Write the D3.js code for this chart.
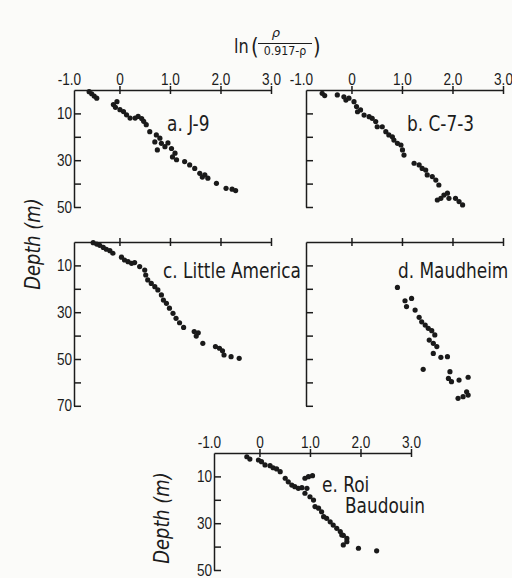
<!DOCTYPE html>
<html>
<head>
<meta charset="utf-8">
<script src="https://cdn.jsdelivr.net/npm/d3@7"></script>
<style>
  body { margin: 0; background: #fbfbf9; }
  svg { font-family: "DejaVu Sans", sans-serif; }
  .axis path, .axis line { stroke: #1c1c1c; stroke-width: 1.5; }
  .axis text { fill: #1c1c1c; }
</style>
</head>
<body>
<script>
const width = 512;
const height = 578;

// ln(rho / (0.917 - rho)) vs depth (m)
const j9 = [
  [-0.60, 0.7], [-0.55, 1.6], [-0.50, 2.6], [-0.45, 3.5],
  [-0.05, 5.0], [-0.12, 6.2], [-0.08, 7.4], [0.01, 8.4], [0.08, 9.2], [0.14, 10.6],
  [0.21, 12.0], [0.31, 12.0], [0.37, 11.3], [0.44, 12.2], [0.48, 13.4], [0.53, 14.8],
  [0.60, 17.8], [0.73, 19.2], [0.80, 20.6], [0.70, 22.2], [0.83, 22.8], [0.90, 24.2],
  [0.96, 22.6], [1.03, 25.0], [0.75, 25.6], [1.10, 27.0], [1.05, 28.6], [1.13, 29.8],
  [1.29, 30.6], [1.39, 32.0], [1.49, 33.5], [1.59, 35.6], [1.69, 36.3], [1.64, 37.2],
  [1.75, 37.7], [1.92, 39.9], [2.11, 42.0], [2.23, 42.4], [2.30, 43.0]
];
const c73 = [
  [-0.58, 1.4], [-0.53, 2.4], [-0.28, 2.1], [-0.15, 2.9], [-0.11, 4.3], [-0.05, 3.5],
  [0.05, 5.0], [0.10, 7.1], [0.12, 9.3], [0.18, 8.5], [0.25, 10.7], [0.35, 11.4],
  [0.41, 12.1], [0.48, 13.5], [0.51, 15.7], [0.61, 15.7], [0.68, 17.8], [0.74, 19.2],
  [0.81, 20.0], [0.84, 21.4], [0.91, 22.8], [0.98, 23.5], [1.01, 25.6], [1.04, 27.8],
  [1.24, 31.3], [1.34, 32.0], [1.40, 33.5], [1.47, 34.2], [1.50, 36.3], [1.60, 37.0],
  [1.67, 38.5], [1.73, 40.6], [1.70, 47.0], [1.77, 46.3], [1.83, 44.9], [1.90, 44.1],
  [1.93, 46.3], [2.06, 46.3], [2.13, 47.7], [2.20, 49.1]
];
const littleAmerica = [
  [-0.52, 0.3], [-0.45, 0.9], [-0.39, 1.4], [-0.32, 2.3], [-0.26, 3.1], [-0.19, 3.7],
  [-0.13, 4.8], [0.04, 6.5], [0.10, 7.7], [0.17, 8.4], [0.24, 9.1], [0.30, 8.8],
  [0.40, 10.5], [0.50, 12.0], [0.52, 14.1], [0.56, 16.2], [0.63, 17.7], [0.70, 19.1],
  [0.76, 20.5], [0.83, 22.6], [0.87, 24.8], [0.93, 26.2], [0.99, 28.3], [1.06, 30.5],
  [1.12, 32.6], [1.19, 34.5], [1.27, 36.5], [1.48, 38.3], [1.56, 38.8], [1.52, 40.2],
  [1.65, 43.3], [1.90, 44.7], [1.98, 45.4], [2.04, 46.5], [2.07, 48.3], [2.21, 49.0],
  [2.37, 49.7]
];
const maudheim = [
  [0.91, 19.4], [1.06, 25.1], [1.09, 27.6], [1.19, 24.1], [1.26, 29.1], [1.34, 32.2],
  [1.39, 34.1], [1.46, 35.5], [1.52, 36.9], [1.59, 37.9], [1.65, 39.7], [1.54, 41.9],
  [1.62, 43.3], [1.69, 44.7], [1.62, 47.6], [1.77, 49.3], [1.90, 49.0], [1.42, 54.4],
  [1.95, 55.4], [1.92, 58.3], [1.98, 59.7], [2.13, 59.0], [2.31, 57.8], [2.28, 64.0],
  [2.31, 65.4], [2.11, 66.8], [2.21, 66.1]
];
const roiBaudouin = [
  [-0.25, 1.6], [-0.19, 2.6], [-0.02, 3.0], [0.04, 3.7], [0.11, 5.1], [0.21, 5.4],
  [0.27, 6.3], [0.34, 6.8], [0.41, 8.0], [0.51, 10.8], [0.57, 12.3], [0.64, 13.7],
  [0.70, 14.4], [0.77, 15.1], [0.84, 14.8], [0.90, 10.8], [0.97, 10.1], [1.05, 9.7],
  [0.94, 15.1], [0.90, 17.2], [1.00, 18.7], [1.07, 20.1], [1.10, 22.9], [1.17, 23.6],
  [1.23, 25.1], [1.27, 27.2], [1.33, 27.9], [1.40, 29.4], [1.46, 30.8], [1.53, 32.2],
  [1.60, 33.6], [1.63, 35.0], [1.66, 35.2], [1.73, 36.5], [1.73, 37.9], [1.66, 39.3],
  [1.96, 40.7], [2.32, 41.8]
];

const xTickMarks = [0, 1, 2, 3];
const xTickLabels = [-1, 0, 1, 2, 3];
const depthTicks50 = [10, 20, 30, 40, 50];
const depthTicks70 = [10, 20, 30, 40, 50, 60, 70];

const panelWidth = 197;
const pxPerMeter = 2.34;
const squeeze = 0.77; // the lettering in the figure is narrow

let panels = [
  { data: j9, x0: 74, y0: 90, maxDepth: 50, ticks: depthTicks50, depthLabels: true, xLabels: true },
  { data: c73, x0: 306, y0: 90, maxDepth: 50, ticks: depthTicks50, depthLabels: false, xLabels: true },
  { data: littleAmerica, x0: 74, y0: 242, maxDepth: 70, ticks: depthTicks70, depthLabels: true, xLabels: false },
  { data: maudheim, x0: 306, y0: 242, maxDepth: 70, ticks: depthTicks70, depthLabels: false, xLabels: false },
  { data: roiBaudouin, x0: 214, y0: 453, maxDepth: 50, ticks: depthTicks50, depthLabels: true, xLabels: true }
];

let svg = d3
  .select("body")
  .append("svg")
  .attr("width", width)
  .attr("height", height);

function fmtX(d) {
  if (d === 0) return "0";
  return (d < 0 ? "-" : "") + Math.abs(d).toFixed(1);
}

panels.forEach((p) => {
  let g = svg.append("g").attr("transform", `translate(${p.x0}, ${p.y0})`);

  let xScale = d3.scaleLinear().domain([-0.9, 3.0]).range([0, panelWidth]);
  let yScale = d3
    .scaleLinear()
    .domain([0, p.maxDepth])
    .range([0, p.maxDepth * pxPerMeter]);

  // top axis line with ticks crossing it
  let topAxis = g
    .append("g")
    .attr("class", "axis")
    .call(d3.axisTop(xScale).tickValues(xTickMarks).tickSizeOuter(0).tickFormat(""));
  topAxis.selectAll(".tick line").attr("y1", 4).attr("y2", -4);

  if (p.xLabels) {
    let labels = g
      .append("g")
      .attr("class", "axis")
      .call(d3.axisTop(xScale).tickValues(xTickLabels).tickSize(0).tickFormat(fmtX));
    labels.select(".domain").remove();
    labels
      .selectAll("text")
      .attr("y", 0)
      .attr("dy", 0)
      .attr("transform", "translate(0, -5) scale(0.8, 1)")
      .style("font-size", "17px");
  }

  // depth axis, ticks pointing inward
  let leftAxis = g
    .append("g")
    .attr("class", "axis")
    .call(
      d3
        .axisLeft(yScale)
        .tickValues(p.ticks)
        .tickSizeInner(-7)
        .tickSizeOuter(0)
        .tickFormat((d) => (p.depthLabels && d % 20 === 10 ? d : ""))
    );
  leftAxis
    .selectAll("text")
    .attr("x", 0)
    .attr("transform", "translate(-2, 0) scale(0.85, 1)")
    .style("font-size", "16px");

  g.selectAll("circle")
    .data(p.data)
    .join("circle")
    .attr("cx", (d) => xScale(d[0]))
    .attr("cy", (d) => yScale(d[1]))
    .attr("r", 2.6)
    .attr("fill", "#1a1a1a");
});

// panel names
let names = [
  { text: "a. J-9", x: 167, y: 131 },
  { text: "b. C-7-3", x: 407, y: 131 },
  { text: "c. Little America", x: 163, y: 278 },
  { text: "d. Maudheim", x: 398, y: 278 },
  { text: "e. Roi", x: 322, y: 492 },
  { text: "Baudouin", x: 345, y: 513 }
];
svg
  .selectAll(".name")
  .data(names)
  .join("text")
  .attr("class", "name")
  .attr("transform", (d) => `translate(${d.x}, ${d.y}) scale(${squeeze}, 1)`)
  .attr("font-size", 22)
  .attr("fill", "#1c1c1c")
  .text((d) => d.text);

// depth titles
[
  { x: 40, y: 244 },
  { x: 169, y: 518 }
].forEach((t) => {
  svg
    .append("text")
    .attr("transform", `translate(${t.x}, ${t.y}) rotate(-90) scale(0.85, 1)`)
    .attr("text-anchor", "middle")
    .attr("font-size", 21)
    .attr("font-style", "italic")
    .attr("fill", "#1c1c1c")
    .text("Depth (m)");
});

// x title: ln( rho / (0.917 - rho) )
let title = svg.append("g").attr("fill", "#1c1c1c");
title
  .append("text")
  .attr("transform", "translate(234, 53) scale(0.85, 1)")
  .attr("font-size", 19)
  .text("ln");
title
  .append("text")
  .attr("transform", "translate(251, 55) scale(0.85, 1)")
  .attr("font-size", 23)
  .text("(");
title
  .append("text")
  .attr("x", 276)
  .attr("y", 37)
  .attr("font-size", 13)
  .attr("font-style", "italic")
  .attr("text-anchor", "middle")
  .text("ρ");
title
  .append("line")
  .attr("x1", 258)
  .attr("x2", 312)
  .attr("y1", 43.5)
  .attr("y2", 43.5)
  .attr("stroke", "#1c1c1c")
  .attr("stroke-width", 1.2);
title
  .append("text")
  .attr("transform", "translate(285, 55) scale(0.85, 1)")
  .attr("font-size", 13)
  .attr("text-anchor", "middle")
  .text("0.917-ρ");
title
  .append("text")
  .attr("transform", "translate(313, 55) scale(0.85, 1)")
  .attr("font-size", 23)
  .text(")");
</script>
</body>
</html>
